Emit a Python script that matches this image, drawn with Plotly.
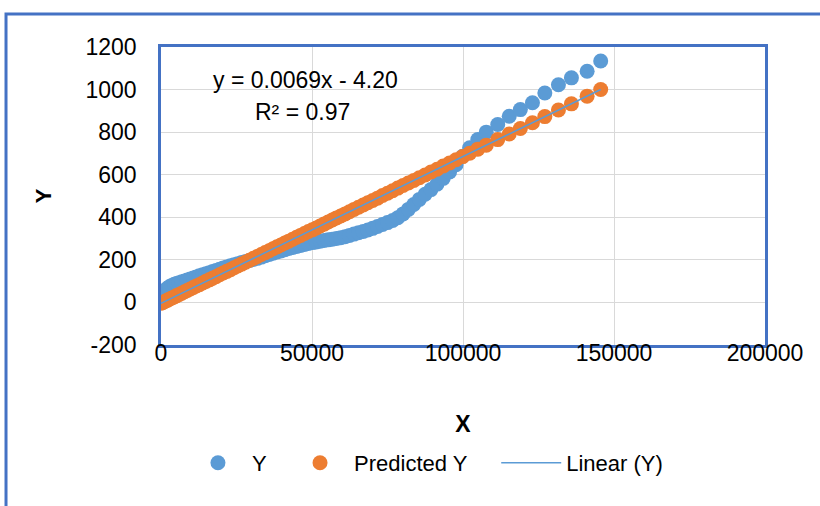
import plotly.graph_objects as go

# ---- data ----
x_values = [0, 500, 1000, 1600, 2200, 2900, 3600, 4400, 5200, 6000, 6900, 7800, 8700, 9700,
            10700, 11700, 12700, 13800, 14900, 16000, 17100, 18200, 19400, 20600, 21800,
            23000, 24200, 25400, 26700, 28000, 29300, 30600, 31900, 33200, 34500, 35800,
            37100, 38400, 39700, 41000, 42300, 43600, 44900, 46200, 47500, 48800,
            50100, 51400, 52700, 54000, 55350, 56700, 58100, 59500, 60950, 62400, 63900,
            65400, 66950, 68500, 70100, 71700, 73350, 75000, 76700, 78400, 80150, 81900, 83700,
            85550, 87450, 89400, 91400, 93450, 95550, 97700, 99900, 102200, 104900, 107700,
            111500, 115300, 119000, 123000, 127100, 131600, 135900, 141100, 145600]

y_values = [28, 40, 50, 60, 68, 75, 80, 85, 89, 93, 97, 101, 105, 110,
            115, 120, 125, 130, 135, 140, 145, 150, 156, 162, 167,
            172, 177, 182, 187, 192, 197, 202, 207, 213, 219, 225,
            231, 237, 242, 248, 253, 258, 263, 268, 272, 277,
            281, 284, 288, 291, 294, 297, 300, 304, 309, 315, 321,
            327, 333, 340, 348, 357, 366, 375, 385, 398, 416, 437, 460,
            484, 508, 530, 556, 583, 613, 647, 687, 727, 765, 800,
            836, 875, 906, 938, 984, 1023, 1055, 1086, 1134]

predicted_y = [-4, -1, 3, 7, 11, 16, 21, 26, 32, 37, 43, 50, 56, 63,
               70, 77, 83, 91, 99, 106, 114, 121, 130, 138, 146,
               154, 163, 171, 180, 189, 198, 207, 216, 225, 234, 243,
               252, 261, 270, 279, 288, 297, 306, 315, 324, 333,
               341, 350, 359, 368, 378, 387, 397, 406, 416, 426, 437,
               447, 458, 468, 479, 490, 502, 513, 525, 537, 549, 561, 573,
               586, 599, 613, 626, 641, 655, 670, 685, 701, 720, 739,
               765, 791, 817, 844, 873, 904, 933, 969, 1000]

trend_slope = 0.0069
trend_intercept = -4.20
r_squared = 0.97

series_names = ["Y", "Predicted Y", "Linear (Y)"]
x_ticks = [0, 50000, 100000, 150000, 200000]
y_ticks = [-200, 0, 200, 400, 600, 800, 1000, 1200]

# ---- styling ----
FONT = "Liberation Sans, Arial, sans-serif"
BLUE = "#5B9BD5"
ORANGE = "#ED7D31"
FRAME = "#4472C4"

trend_x = [min(x_values), max(x_values)]
trend_y = [trend_slope * v + trend_intercept for v in trend_x]

fig = go.Figure()
fig.add_trace(go.Scatter(x=x_values, y=y_values, mode="markers", name=series_names[0],
                         marker=dict(color=BLUE, size=15), legend="legend"))
fig.add_trace(go.Scatter(x=x_values, y=predicted_y, mode="markers", name=series_names[1],
                         marker=dict(color=ORANGE, size=15), legend="legend2"))
fig.add_trace(go.Scatter(x=trend_x, y=trend_y, mode="lines", name=series_names[2],
                         line=dict(color=BLUE, width=1.5), legend="legend3"))

legend_common = dict(orientation="h", yanchor="middle", y=-0.396, xanchor="left",
                     font=dict(size=22), bgcolor="rgba(0,0,0,0)")

fig.update_layout(
    width=820, height=506,
    margin=dict(l=161, r=55, t=47, b=161),
    paper_bgcolor="white", plot_bgcolor="white",
    font=dict(family=FONT, size=23, color="#000000"),
    showlegend=True,
    legend=dict(x=0.038, itemwidth=58, **legend_common),
    legend2=dict(x=0.207, itemwidth=58, **legend_common),
    legend3=dict(x=0.5550, itemwidth=60, **legend_common),
)

fig.update_xaxes(range=[0, 200000], tickvals=x_ticks, ticktext=[str(v) for v in x_ticks],
                 showgrid=True, gridcolor="#D9D9D9", gridwidth=1, zeroline=False,
                 showline=True, linecolor=FRAME, linewidth=2.5, mirror=True, ticks="",
                 tickfont=dict(size=23), ticklabelstandoff=-14,
                 title=dict(text="<b>X</b>", font=dict(size=23), standoff=51))
fig.update_yaxes(range=[-200, 1200], tickvals=y_ticks, ticktext=[str(v) for v in y_ticks],
                 showgrid=True, gridcolor="#D9D9D9", gridwidth=1, zeroline=False,
                 showline=True, linecolor=FRAME, linewidth=2.5, mirror=True, ticks="",
                 tickfont=dict(size=23), ticklabelstandoff=17,
                 title=dict(text="<b>Y</b>", font=dict(size=22), standoff=28))

fig.add_annotation(x=47700, y=1045, xref="x", yref="y", showarrow=False,
                   text=f"y = {trend_slope}x - {abs(trend_intercept):.2f}", font=dict(size=23))
fig.add_annotation(x=46700, y=895, xref="x", yref="y", showarrow=False,
                   text=f"R² = {r_squared}", font=dict(size=23))

# outer chart frame
fig.add_shape(type="rect", xref="paper", yref="paper",
              x0=-0.2566, x1=1.12, y0=-0.6, y1=1.1107,
              line=dict(color=FRAME, width=3), fillcolor="rgba(0,0,0,0)", layer="below")

fig.write_html("out.html", config={"displayModeBar": False},
               post_script="document.body.style.margin='0';")
